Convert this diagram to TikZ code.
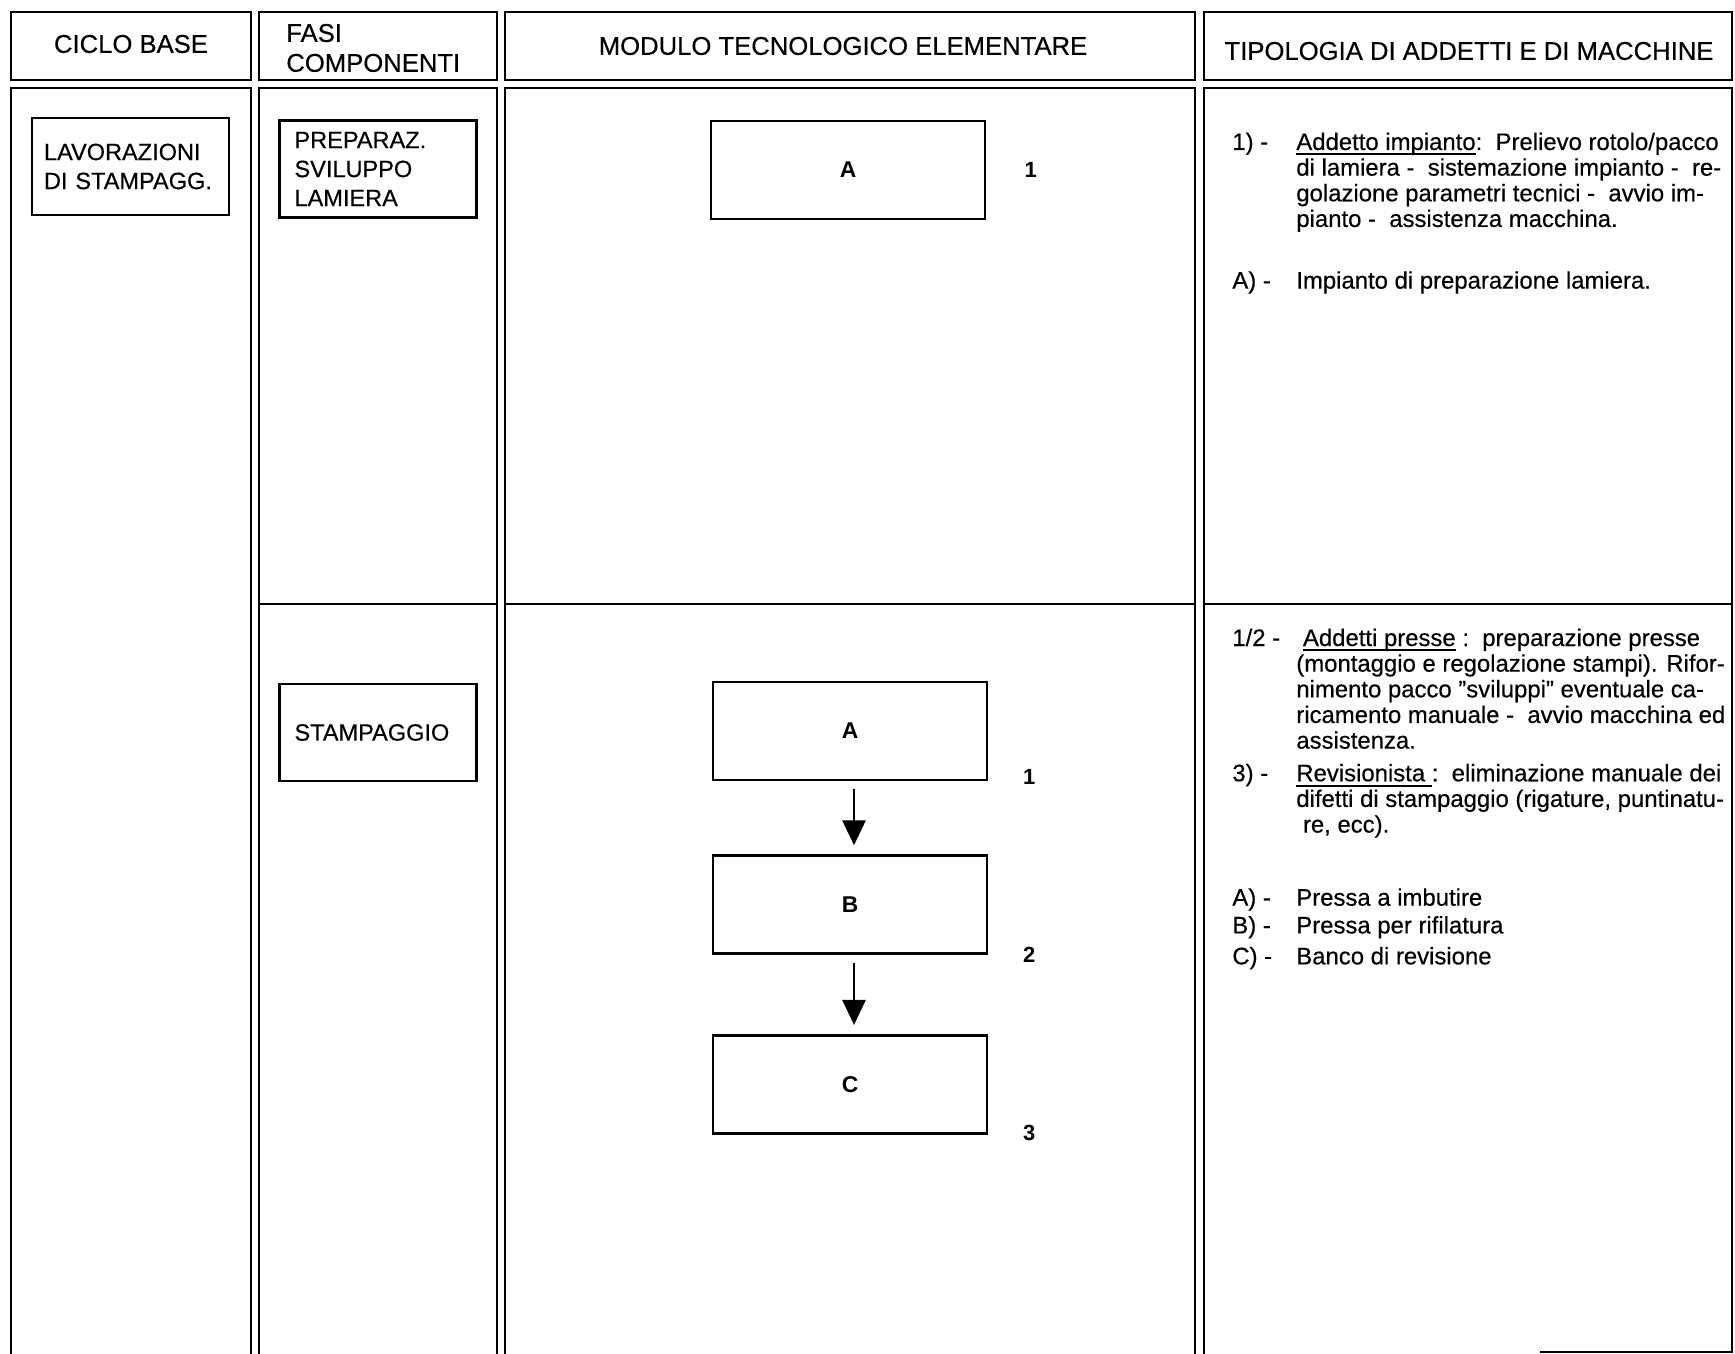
\documentclass[tikz,border=0pt]{standalone}
\usepackage{fontspec}
\setmainfont{Liberation Sans}[UprightFeatures={FakeBold=0.4}]
\usetikzlibrary{arrows.meta,positioning}

% sottolineatura spessa come nella scansione
\newsavebox{\undlbox}
\newcommand{\undl}[1]{\sbox{\undlbox}{#1}\rlap{\rule[-3pt]{\wd\undlbox}{1.1pt}}\usebox{\undlbox}}

\begin{document}
\begin{tikzpicture}[
    x=0.02cm, y=-0.02cm,
    font=\fontsize{13.6}{14.6}\selectfont,
    frame/.style={draw, line width=1.6pt},
    head/.style={font=\fontsize{14.6}{17}\selectfont, inner sep=0pt},
    phase/.style={rectangle, draw, line width=1.5pt, text width=3.34cm, inner xsep=0.3cm, minimum height=1.94cm, align=left, font=\fontsize{13.4}{16.5}\selectfont},
    module/.style={rectangle, draw, line width=1.5pt, minimum width=5.48cm, minimum height=1.96cm, font=\fontsize{13}{15}\bfseries\selectfont},
    tag/.style={font=\fontsize{12.5}{14}\bfseries\selectfont, inner sep=0pt},
    notes/.style={anchor=base west, inner sep=0pt},
    flow/.style={-{Triangle[length=0.5cm, width=0.46cm]}, line width=1.6pt, shorten <=0.16cm, shorten >=0.18cm}
]
\clip (0,0) rectangle (1735,1354);

% colonne della tabella (intestazione + corpo)
\foreach \l/\r in {11/251, 259/497, 505/1195}{
    \draw[frame] (\l,12) rectangle (\r,80);
    \draw[frame] (\l,88) rectangle (\r,1400);
}
\draw[frame] (1204,12) rectangle (1732,80);
\draw[frame] (1204,1400) |- (1732,88) |- (1540,1352);

% separazione tra le due fasi
\foreach \l/\r in {259/497, 505/1195, 1204/1732}
    \draw[frame, line width=1.3pt] (\l,604) -- (\r,604);

% intestazioni
\node[head] (hciclo) at (131,44) {CICLO BASE};
\node[head, anchor=west, align=left] (hfasi) at (286,48) {FASI\\COMPONENTI};
\node[head] (hmodulo) at (843,46) {MODULO TECNOLOGICO ELEMENTARE};
\node[head] (htipo) at (1469,51) {TIPOLOGIA DI ADDETTI E DI MACCHINE};

% ciclo base e fasi componenti
\node[phase, text width=3.46cm, inner xsep=0.24cm] (lavoraz) at (130.5,166.5) {LAVORAZIONI\\\mbox{DI STAMPAGG.}};
\node[phase] (prepar) at (378,169) {PREPARAZ.\\SVILUPPO\\LAMIERA};
\node[phase, below=9.28cm of prepar] (stampag) {STAMPAGGIO};

% moduli tecnologici
\node[module] (mprep) at (848,170) {A};
\node[tag, right=0.76cm of mprep] (nprep) {1};

\node[module] (mstampa) at (850,731) {A};
\node[module, below=1.46cm of mstampa] (mstampb) {B};
\node[module, below=1.58cm of mstampb] (mstampc) {C};
\node[tag] (nstampa) at ([xshift=0.82cm, yshift=0.08cm]mstampa.south east) {1};
\node[tag] (nstampb) at ([xshift=0.82cm]mstampb.south east) {2};
\node[tag] (nstampc) at ([xshift=0.82cm, yshift=0.04cm]mstampc.south east) {3};

\draw[flow] ([xshift=0.08cm]mstampa.south) -- ([xshift=0.08cm]mstampb.north);
\draw[flow] ([xshift=0.08cm]mstampb.south) -- ([xshift=0.08cm]mstampc.north);

% addetti e macchine
\node[notes] (notaprep) at (1232,150) {\begin{tabular}[t]{@{}p{1.28cm}@{}l@{}}
1) - & \undl{Addetto impianto}:\ \ Prelievo rotolo/pacco\\
 & di lamiera -\ \ sistemazione impianto -\ \ re-\\
 & golazione parametri tecnici -\ \ avvio im-\\
 & pianto -\ \ assistenza macchina.\\[20.5pt]
A) - & Impianto di preparazione lamiera.
\end{tabular}};

\node[notes] (notastamp) at (1232,646) {\begin{tabular}[t]{@{}p{1.28cm}@{}l@{}}
1/2 - & \ \undl{Addetti presse} :\ \ preparazione presse\\
 & (montaggio e regolazione stampi). Rifor-\\
 & nimento pacco "sviluppi" eventuale ca-\\
 & ricamento manuale -\ \ avvio macchina ed\\
 & assistenza.\\[4pt]
3) - & \undl{Revisionista\ }:\ \ eliminazione manuale dei\\
 & difetti di stampaggio (rigature, puntinatu-\\
 & \ re, ecc).\\[27pt]
A) - & Pressa a imbutire\\[1.2pt]
B) - & Pressa per rifilatura\\[3pt]
C) - & Banco di revisione
\end{tabular}};

\end{tikzpicture}
\end{document}
